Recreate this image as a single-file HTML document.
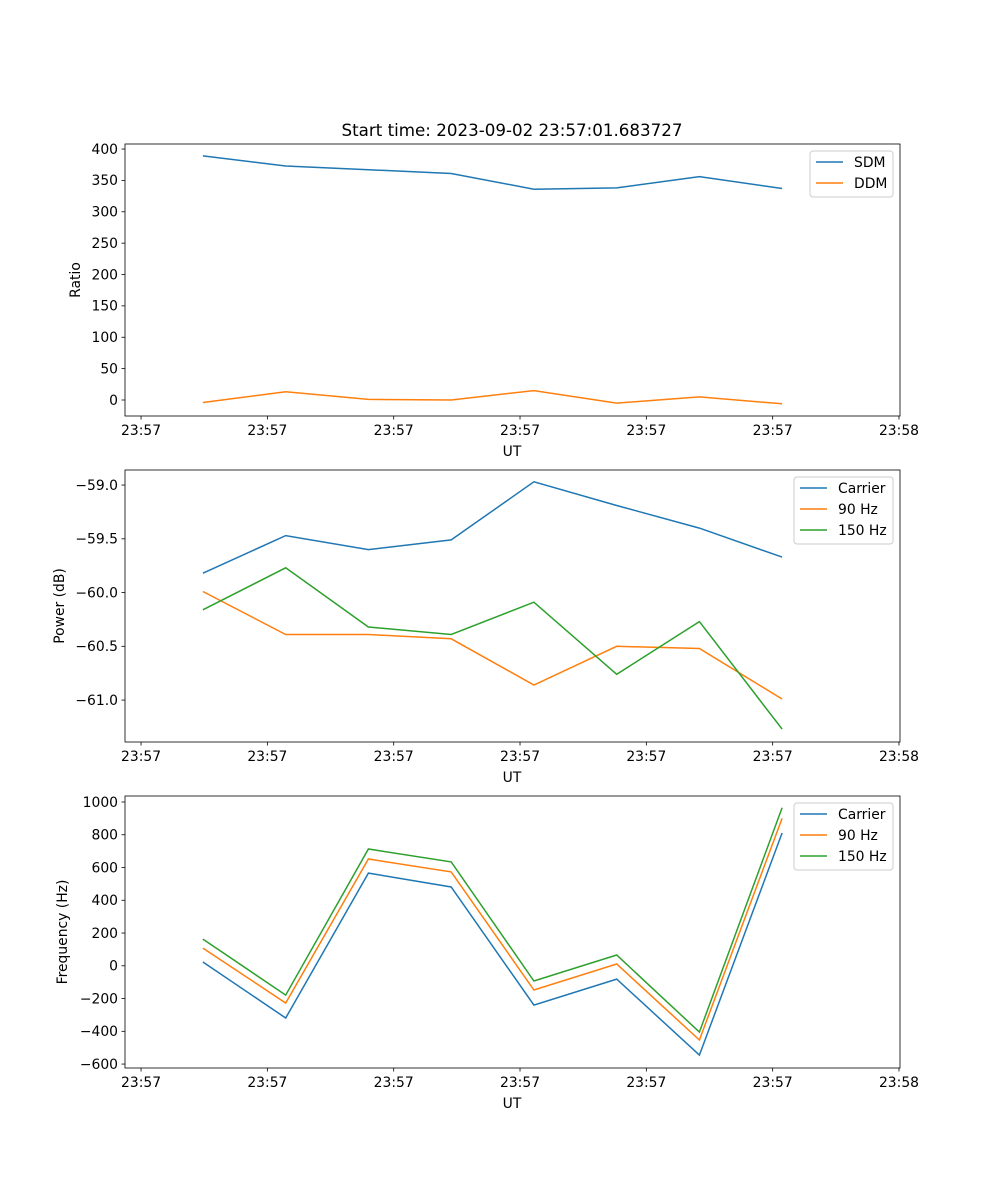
<!DOCTYPE html>
<html><head><meta charset="utf-8"><style>
html,body{margin:0;padding:0;background:#fff}
svg{display:block;font-family:"DejaVu Sans","Liberation Sans",sans-serif}
</style></head><body>
<svg id="fig" width="1000" height="1200" viewBox="0 0 1000 1200" xmlns="http://www.w3.org/2000/svg">
<rect width="1000" height="1200" fill="#fff"/>
<text x="512" y="136" font-size="16.7" text-anchor="middle">Start time: 2023-09-02 23:57:01.683727</text>
</svg>
<script>
const times = [0.49, 1.145, 1.80, 2.455, 3.11, 3.765, 4.42, 5.075];
const xTickVals = [0, 1, 2, 3, 4, 5, 6];
const xTickLabels = ["23:57","23:57","23:57","23:57","23:57","23:57","23:58"];
const sdm = [389, 373, 367, 361, 336, 338, 356, 337];
const ddm = [-4, 13, 1, 0, 15, -5, 5, -6];
const ratioTicks = [0, 50, 100, 150, 200, 250, 300, 350, 400];
const powCarrier = [-59.82, -59.47, -59.60, -59.51, -58.97, -59.19, -59.40, -59.67];
const pow90 = [-59.99, -60.39, -60.39, -60.43, -60.86, -60.50, -60.52, -60.99];
const pow150 = [-60.16, -59.77, -60.32, -60.39, -60.09, -60.76, -60.27, -61.27];
const powTicks = [-61.0, -60.5, -60.0, -59.5, -59.0];
const freqCarrier = [23, -319, 566, 481, -240, -81, -545, 811];
const freq90 = [108, -227, 652, 573, -148, 11, -453, 900];
const freq150 = [163, -179, 713, 634, -93, 66, -405, 965];
const freqTicks = [-600, -400, -200, 0, 200, 400, 600, 800, 1000];

const NS = "http://www.w3.org/2000/svg";
const svg = document.getElementById('fig');
const BLUE = "#1f77b4", ORANGE = "#ff7f0e", GREEN = "#2ca02c";
function mk(tag, attrs, parent) {
  const e = document.createElementNS(NS, tag);
  for (const k in attrs) e.setAttribute(k, attrs[k]);
  (parent || svg).appendChild(e);
  return e;
}
const L = 125, R = 900, XMIN = -0.127, XMAX = 6.008;
const xs = v => L + (v - XMIN) / (XMAX - XMIN) * (R - L);

function panel(name, top, bot, ymin, ymax, yTicks, fmt, ylabel, series, legendW) {
  const g = mk('g', {});
  
  
  const ys = v => bot - (v - ymin) / (ymax - ymin) * (bot - top);
  yTicks.forEach(t => {
    const y = ys(t);
    const tk = mk('line', {x1: L - 3.5, x2: L, y1: y, y2: y, stroke: '#000', 'stroke-width': 0.8}, g);
    
    
    const tx = mk('text', {x: L - 7, y: y + 4.8, 'font-size': 13.9, 'text-anchor': 'end'}, g);
    
    
    tx.textContent = fmt(t);
  });
  xTickVals.forEach((t, i) => {
    const x = xs(t);
    const tk = mk('line', {x1: x, x2: x, y1: bot, y2: bot + 3.5, stroke: '#000', 'stroke-width': 0.8}, g);
    
    
    const tx = mk('text', {x: x, y: bot + 19, 'font-size': 13.9, 'text-anchor': 'middle'}, g);
    
    
    tx.textContent = xTickLabels[i];
  });
  const xl = mk('text', {x: 512, y: bot + 40, 'font-size': 13.9, 'text-anchor': 'middle'}, g);
  
  
  xl.textContent = 'UT';
  const cy = (top + bot) / 2;
  const yl = mk('text', {x: 0, y: 0, 'font-size': 13.9, 'text-anchor': 'middle', transform: `translate(${ylabel.x},${cy}) rotate(-90)`}, g);
  
  
  yl.textContent = ylabel.text;
  series.forEach(s => {
    const d = s.vals.map((v, i) => (i ? 'L' : 'M') + xs(times[i]).toFixed(1) + ',' + ys(v).toFixed(1)).join(' ');
    const p = mk('path', {d: d, fill: 'none', stroke: s.color, 'stroke-width': 1.5}, g);
    
    
  });
  const fr = mk('rect', {x: L, y: top, width: R - L, height: bot - top, fill: 'none', stroke: '#000', 'stroke-width': 0.8}, g);
  
  
  const lg = mk('g', {}, g);
  
  
  const lx = R - 7 - legendW, ly = top + 7, lh = 4 + series.length * 21;
  mk('rect', {x: lx, y: ly, width: legendW, height: lh, rx: 3, fill: '#fff', 'fill-opacity': 0.8, stroke: '#ccc'}, lg);
  series.forEach((s, i) => {
    const yy = ly + 11 + i * 21;
    const e = mk('g', {}, lg);
    
    
    mk('line', {x1: lx + 6, x2: lx + 33, y1: yy, y2: yy, stroke: s.color, 'stroke-width': 1.5}, e);
    const t = mk('text', {x: lx + 44, y: yy + 5, 'font-size': 13.9}, e);
    t.textContent = s.label;
  });
}

panel('ratio', 144, 416, -25.5, 408, ratioTicks, v => String(v), {x: 80, text: 'Ratio'},
  [{key: 'sdm', label: 'SDM', vals: sdm, color: BLUE}, {key: 'ddm', label: 'DDM', vals: ddm, color: ORANGE}], 83);
panel('power', 470, 742, -61.39, -58.86, powTicks, v => (v < 0 ? '\u2212' : '') + Math.abs(v).toFixed(1), {x: 64, text: 'Power (dB)'},
  [{key: 'carrier', label: 'Carrier', vals: powCarrier, color: BLUE}, {key: 'hz90', label: '90 Hz', vals: pow90, color: ORANGE}, {key: 'hz150', label: '150 Hz', vals: pow150, color: GREEN}], 99);
panel('frequency', 796, 1068, -624, 1036.6, freqTicks, v => (v < 0 ? '\u2212' : '') + Math.abs(v), {x: 67, text: 'Frequency (Hz)'},
  [{key: 'carrier', label: 'Carrier', vals: freqCarrier, color: BLUE}, {key: 'hz90', label: '90 Hz', vals: freq90, color: ORANGE}, {key: 'hz150', label: '150 Hz', vals: freq150, color: GREEN}], 99);
</script>
</body></html>
